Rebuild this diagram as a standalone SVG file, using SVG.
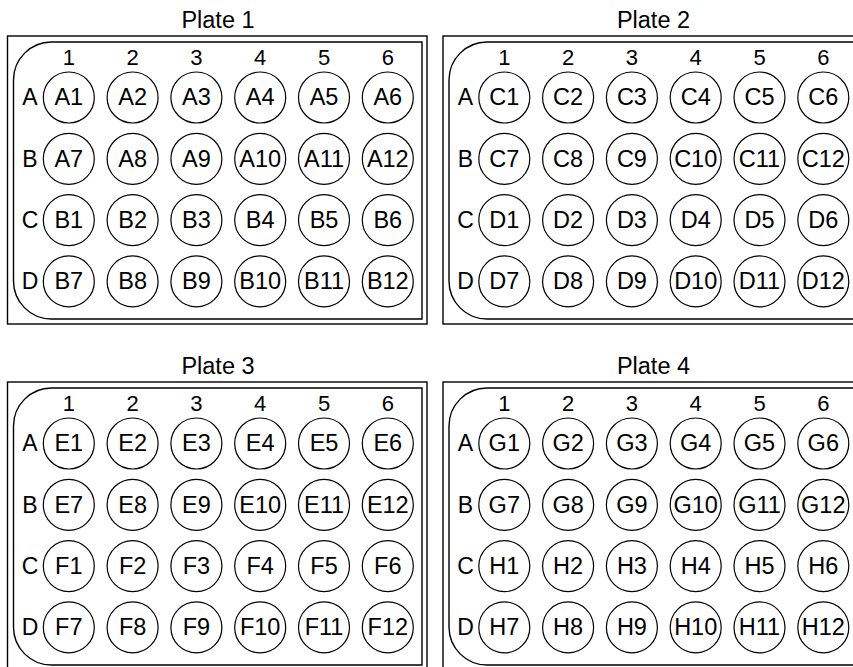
<svg xmlns="http://www.w3.org/2000/svg" width="853" height="667" viewBox="0 0 853 667">
<style>
.bg{fill:#fff}
.outer{fill:none;stroke:#000;stroke-width:1.4}
.inner{fill:none;stroke:#000;stroke-width:1.4}
.well circle{fill:#fff;stroke:#000;stroke-width:1.2}
text{font-family:"Liberation Sans",Arial,sans-serif;fill:#000;text-anchor:middle}
.t{font-size:23.5px}
.c{font-size:22px}
.r{font-size:23px}
.title{font-size:23.5px}
</style>
<rect class="bg" x="0" y="0" width="853" height="667"/>
<defs>
<g id="frame">
<rect class="outer" x="7.5" y="36" width="419.5" height="288"/>
<path class="inner" d="M51.5 42H422V319H51.5A38 38 0 0 1 13.5 281V80A38 38 0 0 1 51.5 42Z"/>
<text class="c" x="68.8" y="65">1</text>
<text class="c" x="132.6" y="65">2</text>
<text class="c" x="196.4" y="65">3</text>
<text class="c" x="260.2" y="65">4</text>
<text class="c" x="324" y="65">5</text>
<text class="c" x="387.8" y="65">6</text>
<text class="r" x="30" y="105.3">A</text>
<text class="r" x="30" y="166.6">B</text>
<text class="r" x="30" y="227.9">C</text>
<text class="r" x="30" y="289.2">D</text>
</g>
</defs>
<g id="connectors"/>
<g id="plate1">
<use href="#frame"/>
<text class="title" x="218" y="28">Plate 1</text>
<g class="well" id="p1-A1"><circle cx="68.8" cy="97.5" r="25.5"/><text class="t" x="68.8" y="105.3">A1</text></g>
<g class="well" id="p1-A2"><circle cx="132.6" cy="97.5" r="25.5"/><text class="t" x="132.6" y="105.3">A2</text></g>
<g class="well" id="p1-A3"><circle cx="196.4" cy="97.5" r="25.5"/><text class="t" x="196.4" y="105.3">A3</text></g>
<g class="well" id="p1-A4"><circle cx="260.2" cy="97.5" r="25.5"/><text class="t" x="260.2" y="105.3">A4</text></g>
<g class="well" id="p1-A5"><circle cx="324" cy="97.5" r="25.5"/><text class="t" x="324" y="105.3">A5</text></g>
<g class="well" id="p1-A6"><circle cx="387.8" cy="97.5" r="25.5"/><text class="t" x="387.8" y="105.3">A6</text></g>
<g class="well" id="p1-B1"><circle cx="68.8" cy="158.8" r="25.5"/><text class="t" x="68.8" y="166.6">A7</text></g>
<g class="well" id="p1-B2"><circle cx="132.6" cy="158.8" r="25.5"/><text class="t" x="132.6" y="166.6">A8</text></g>
<g class="well" id="p1-B3"><circle cx="196.4" cy="158.8" r="25.5"/><text class="t" x="196.4" y="166.6">A9</text></g>
<g class="well" id="p1-B4"><circle cx="260.2" cy="158.8" r="25.5"/><text class="t" x="260.2" y="166.6">A10</text></g>
<g class="well" id="p1-B5"><circle cx="324" cy="158.8" r="25.5"/><text class="t" x="324" y="166.6">A11</text></g>
<g class="well" id="p1-B6"><circle cx="387.8" cy="158.8" r="25.5"/><text class="t" x="387.8" y="166.6">A12</text></g>
<g class="well" id="p1-C1"><circle cx="68.8" cy="220.1" r="25.5"/><text class="t" x="68.8" y="227.9">B1</text></g>
<g class="well" id="p1-C2"><circle cx="132.6" cy="220.1" r="25.5"/><text class="t" x="132.6" y="227.9">B2</text></g>
<g class="well" id="p1-C3"><circle cx="196.4" cy="220.1" r="25.5"/><text class="t" x="196.4" y="227.9">B3</text></g>
<g class="well" id="p1-C4"><circle cx="260.2" cy="220.1" r="25.5"/><text class="t" x="260.2" y="227.9">B4</text></g>
<g class="well" id="p1-C5"><circle cx="324" cy="220.1" r="25.5"/><text class="t" x="324" y="227.9">B5</text></g>
<g class="well" id="p1-C6"><circle cx="387.8" cy="220.1" r="25.5"/><text class="t" x="387.8" y="227.9">B6</text></g>
<g class="well" id="p1-D1"><circle cx="68.8" cy="281.4" r="25.5"/><text class="t" x="68.8" y="289.2">B7</text></g>
<g class="well" id="p1-D2"><circle cx="132.6" cy="281.4" r="25.5"/><text class="t" x="132.6" y="289.2">B8</text></g>
<g class="well" id="p1-D3"><circle cx="196.4" cy="281.4" r="25.5"/><text class="t" x="196.4" y="289.2">B9</text></g>
<g class="well" id="p1-D4"><circle cx="260.2" cy="281.4" r="25.5"/><text class="t" x="260.2" y="289.2">B10</text></g>
<g class="well" id="p1-D5"><circle cx="324" cy="281.4" r="25.5"/><text class="t" x="324" y="289.2">B11</text></g>
<g class="well" id="p1-D6"><circle cx="387.8" cy="281.4" r="25.5"/><text class="t" x="387.8" y="289.2">B12</text></g>
</g>
<g id="plate2" transform="translate(435.5,0)">
<use href="#frame"/>
<text class="title" x="218" y="28">Plate 2</text>
<g class="well" id="p2-A1"><circle cx="68.8" cy="97.5" r="25.5"/><text class="t" x="68.8" y="105.3">C1</text></g>
<g class="well" id="p2-A2"><circle cx="132.6" cy="97.5" r="25.5"/><text class="t" x="132.6" y="105.3">C2</text></g>
<g class="well" id="p2-A3"><circle cx="196.4" cy="97.5" r="25.5"/><text class="t" x="196.4" y="105.3">C3</text></g>
<g class="well" id="p2-A4"><circle cx="260.2" cy="97.5" r="25.5"/><text class="t" x="260.2" y="105.3">C4</text></g>
<g class="well" id="p2-A5"><circle cx="324" cy="97.5" r="25.5"/><text class="t" x="324" y="105.3">C5</text></g>
<g class="well" id="p2-A6"><circle cx="387.8" cy="97.5" r="25.5"/><text class="t" x="387.8" y="105.3">C6</text></g>
<g class="well" id="p2-B1"><circle cx="68.8" cy="158.8" r="25.5"/><text class="t" x="68.8" y="166.6">C7</text></g>
<g class="well" id="p2-B2"><circle cx="132.6" cy="158.8" r="25.5"/><text class="t" x="132.6" y="166.6">C8</text></g>
<g class="well" id="p2-B3"><circle cx="196.4" cy="158.8" r="25.5"/><text class="t" x="196.4" y="166.6">C9</text></g>
<g class="well" id="p2-B4"><circle cx="260.2" cy="158.8" r="25.5"/><text class="t" x="260.2" y="166.6">C10</text></g>
<g class="well" id="p2-B5"><circle cx="324" cy="158.8" r="25.5"/><text class="t" x="324" y="166.6">C11</text></g>
<g class="well" id="p2-B6"><circle cx="387.8" cy="158.8" r="25.5"/><text class="t" x="387.8" y="166.6">C12</text></g>
<g class="well" id="p2-C1"><circle cx="68.8" cy="220.1" r="25.5"/><text class="t" x="68.8" y="227.9">D1</text></g>
<g class="well" id="p2-C2"><circle cx="132.6" cy="220.1" r="25.5"/><text class="t" x="132.6" y="227.9">D2</text></g>
<g class="well" id="p2-C3"><circle cx="196.4" cy="220.1" r="25.5"/><text class="t" x="196.4" y="227.9">D3</text></g>
<g class="well" id="p2-C4"><circle cx="260.2" cy="220.1" r="25.5"/><text class="t" x="260.2" y="227.9">D4</text></g>
<g class="well" id="p2-C5"><circle cx="324" cy="220.1" r="25.5"/><text class="t" x="324" y="227.9">D5</text></g>
<g class="well" id="p2-C6"><circle cx="387.8" cy="220.1" r="25.5"/><text class="t" x="387.8" y="227.9">D6</text></g>
<g class="well" id="p2-D1"><circle cx="68.8" cy="281.4" r="25.5"/><text class="t" x="68.8" y="289.2">D7</text></g>
<g class="well" id="p2-D2"><circle cx="132.6" cy="281.4" r="25.5"/><text class="t" x="132.6" y="289.2">D8</text></g>
<g class="well" id="p2-D3"><circle cx="196.4" cy="281.4" r="25.5"/><text class="t" x="196.4" y="289.2">D9</text></g>
<g class="well" id="p2-D4"><circle cx="260.2" cy="281.4" r="25.5"/><text class="t" x="260.2" y="289.2">D10</text></g>
<g class="well" id="p2-D5"><circle cx="324" cy="281.4" r="25.5"/><text class="t" x="324" y="289.2">D11</text></g>
<g class="well" id="p2-D6"><circle cx="387.8" cy="281.4" r="25.5"/><text class="t" x="387.8" y="289.2">D12</text></g>
</g>
<g id="plate3" transform="translate(0,346)">
<use href="#frame"/>
<text class="title" x="218" y="28">Plate 3</text>
<g class="well" id="p3-A1"><circle cx="68.8" cy="97.5" r="25.5"/><text class="t" x="68.8" y="105.3">E1</text></g>
<g class="well" id="p3-A2"><circle cx="132.6" cy="97.5" r="25.5"/><text class="t" x="132.6" y="105.3">E2</text></g>
<g class="well" id="p3-A3"><circle cx="196.4" cy="97.5" r="25.5"/><text class="t" x="196.4" y="105.3">E3</text></g>
<g class="well" id="p3-A4"><circle cx="260.2" cy="97.5" r="25.5"/><text class="t" x="260.2" y="105.3">E4</text></g>
<g class="well" id="p3-A5"><circle cx="324" cy="97.5" r="25.5"/><text class="t" x="324" y="105.3">E5</text></g>
<g class="well" id="p3-A6"><circle cx="387.8" cy="97.5" r="25.5"/><text class="t" x="387.8" y="105.3">E6</text></g>
<g class="well" id="p3-B1"><circle cx="68.8" cy="158.8" r="25.5"/><text class="t" x="68.8" y="166.6">E7</text></g>
<g class="well" id="p3-B2"><circle cx="132.6" cy="158.8" r="25.5"/><text class="t" x="132.6" y="166.6">E8</text></g>
<g class="well" id="p3-B3"><circle cx="196.4" cy="158.8" r="25.5"/><text class="t" x="196.4" y="166.6">E9</text></g>
<g class="well" id="p3-B4"><circle cx="260.2" cy="158.8" r="25.5"/><text class="t" x="260.2" y="166.6">E10</text></g>
<g class="well" id="p3-B5"><circle cx="324" cy="158.8" r="25.5"/><text class="t" x="324" y="166.6">E11</text></g>
<g class="well" id="p3-B6"><circle cx="387.8" cy="158.8" r="25.5"/><text class="t" x="387.8" y="166.6">E12</text></g>
<g class="well" id="p3-C1"><circle cx="68.8" cy="220.1" r="25.5"/><text class="t" x="68.8" y="227.9">F1</text></g>
<g class="well" id="p3-C2"><circle cx="132.6" cy="220.1" r="25.5"/><text class="t" x="132.6" y="227.9">F2</text></g>
<g class="well" id="p3-C3"><circle cx="196.4" cy="220.1" r="25.5"/><text class="t" x="196.4" y="227.9">F3</text></g>
<g class="well" id="p3-C4"><circle cx="260.2" cy="220.1" r="25.5"/><text class="t" x="260.2" y="227.9">F4</text></g>
<g class="well" id="p3-C5"><circle cx="324" cy="220.1" r="25.5"/><text class="t" x="324" y="227.9">F5</text></g>
<g class="well" id="p3-C6"><circle cx="387.8" cy="220.1" r="25.5"/><text class="t" x="387.8" y="227.9">F6</text></g>
<g class="well" id="p3-D1"><circle cx="68.8" cy="281.4" r="25.5"/><text class="t" x="68.8" y="289.2">F7</text></g>
<g class="well" id="p3-D2"><circle cx="132.6" cy="281.4" r="25.5"/><text class="t" x="132.6" y="289.2">F8</text></g>
<g class="well" id="p3-D3"><circle cx="196.4" cy="281.4" r="25.5"/><text class="t" x="196.4" y="289.2">F9</text></g>
<g class="well" id="p3-D4"><circle cx="260.2" cy="281.4" r="25.5"/><text class="t" x="260.2" y="289.2">F10</text></g>
<g class="well" id="p3-D5"><circle cx="324" cy="281.4" r="25.5"/><text class="t" x="324" y="289.2">F11</text></g>
<g class="well" id="p3-D6"><circle cx="387.8" cy="281.4" r="25.5"/><text class="t" x="387.8" y="289.2">F12</text></g>
</g>
<g id="plate4" transform="translate(435.5,346)">
<use href="#frame"/>
<text class="title" x="218" y="28">Plate 4</text>
<g class="well" id="p4-A1"><circle cx="68.8" cy="97.5" r="25.5"/><text class="t" x="68.8" y="105.3">G1</text></g>
<g class="well" id="p4-A2"><circle cx="132.6" cy="97.5" r="25.5"/><text class="t" x="132.6" y="105.3">G2</text></g>
<g class="well" id="p4-A3"><circle cx="196.4" cy="97.5" r="25.5"/><text class="t" x="196.4" y="105.3">G3</text></g>
<g class="well" id="p4-A4"><circle cx="260.2" cy="97.5" r="25.5"/><text class="t" x="260.2" y="105.3">G4</text></g>
<g class="well" id="p4-A5"><circle cx="324" cy="97.5" r="25.5"/><text class="t" x="324" y="105.3">G5</text></g>
<g class="well" id="p4-A6"><circle cx="387.8" cy="97.5" r="25.5"/><text class="t" x="387.8" y="105.3">G6</text></g>
<g class="well" id="p4-B1"><circle cx="68.8" cy="158.8" r="25.5"/><text class="t" x="68.8" y="166.6">G7</text></g>
<g class="well" id="p4-B2"><circle cx="132.6" cy="158.8" r="25.5"/><text class="t" x="132.6" y="166.6">G8</text></g>
<g class="well" id="p4-B3"><circle cx="196.4" cy="158.8" r="25.5"/><text class="t" x="196.4" y="166.6">G9</text></g>
<g class="well" id="p4-B4"><circle cx="260.2" cy="158.8" r="25.5"/><text class="t" x="260.2" y="166.6">G10</text></g>
<g class="well" id="p4-B5"><circle cx="324" cy="158.8" r="25.5"/><text class="t" x="324" y="166.6">G11</text></g>
<g class="well" id="p4-B6"><circle cx="387.8" cy="158.8" r="25.5"/><text class="t" x="387.8" y="166.6">G12</text></g>
<g class="well" id="p4-C1"><circle cx="68.8" cy="220.1" r="25.5"/><text class="t" x="68.8" y="227.9">H1</text></g>
<g class="well" id="p4-C2"><circle cx="132.6" cy="220.1" r="25.5"/><text class="t" x="132.6" y="227.9">H2</text></g>
<g class="well" id="p4-C3"><circle cx="196.4" cy="220.1" r="25.5"/><text class="t" x="196.4" y="227.9">H3</text></g>
<g class="well" id="p4-C4"><circle cx="260.2" cy="220.1" r="25.5"/><text class="t" x="260.2" y="227.9">H4</text></g>
<g class="well" id="p4-C5"><circle cx="324" cy="220.1" r="25.5"/><text class="t" x="324" y="227.9">H5</text></g>
<g class="well" id="p4-C6"><circle cx="387.8" cy="220.1" r="25.5"/><text class="t" x="387.8" y="227.9">H6</text></g>
<g class="well" id="p4-D1"><circle cx="68.8" cy="281.4" r="25.5"/><text class="t" x="68.8" y="289.2">H7</text></g>
<g class="well" id="p4-D2"><circle cx="132.6" cy="281.4" r="25.5"/><text class="t" x="132.6" y="289.2">H8</text></g>
<g class="well" id="p4-D3"><circle cx="196.4" cy="281.4" r="25.5"/><text class="t" x="196.4" y="289.2">H9</text></g>
<g class="well" id="p4-D4"><circle cx="260.2" cy="281.4" r="25.5"/><text class="t" x="260.2" y="289.2">H10</text></g>
<g class="well" id="p4-D5"><circle cx="324" cy="281.4" r="25.5"/><text class="t" x="324" y="289.2">H11</text></g>
<g class="well" id="p4-D6"><circle cx="387.8" cy="281.4" r="25.5"/><text class="t" x="387.8" y="289.2">H12</text></g>
</g>
</svg>
